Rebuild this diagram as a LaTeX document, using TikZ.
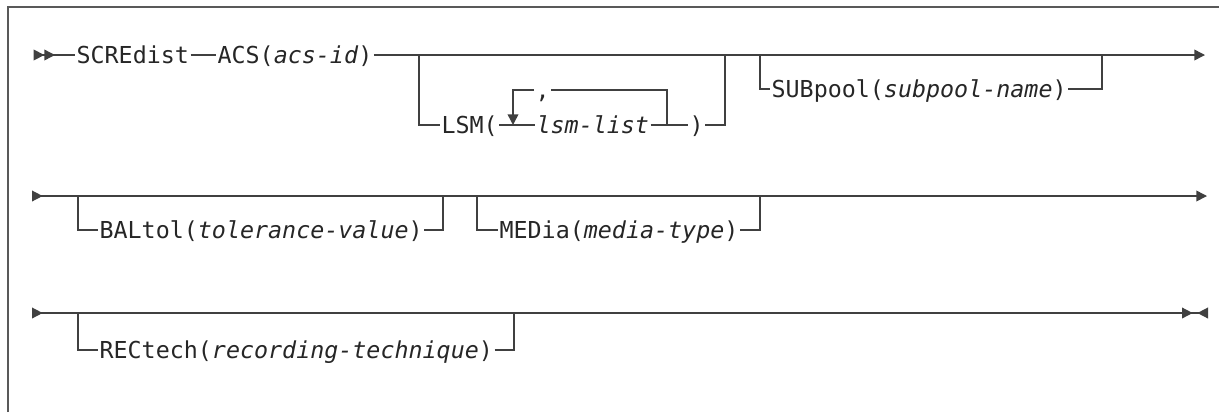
\documentclass[tikz,border=0pt]{standalone}
\usepackage{fontspec}
\setmonofont{DejaVu Sans Mono}
\usetikzlibrary{arrows.meta}

\tikzset{
  kw/.style={anchor=west,inner xsep=1pt,inner ysep=0pt,text height=12.8pt,text depth=0pt,
    font=\ttfamily\fontsize{17.5}{20}\selectfont,text=black!85},
  rail/.style={line width=1.1pt,black!75},
  frame/.style={line width=1.8pt,black!65},
  >={Triangle[length=8pt,width=8pt]}
}

\begin{document}
\begin{tikzpicture}[x=0.75pt,y=-0.75pt]
\useasboundingbox (0,0) rectangle (1219,412);
\draw[frame] (8,412) |- (1219,7);
% first line
\node[kw] (scre) at (75,55) {SCREdist};
\node[kw] (acs) at (216,55) {ACS(\textit{acs-id})};
\node[kw] (lsm) at (440,125) {LSM(};
\node[kw] (lsml) at (535,125) {\textit{lsm-list}};
\node[kw] (comma) at (534,90) {,};
\node[kw] (rpar) at (688,125) {)};
\node[kw] (sub) at (770,89) {SUBpool(\textit{subpool-name})};
\coordinate (s1) at (29,55); \coordinate (e1) at (1205,55);
\coordinate (a1) at (419,55); \coordinate (a2) at (725,55);
\coordinate (b1) at (760,55); \coordinate (b2) at (1102,55);
\coordinate (ll) at (513,125); \coordinate (lr) at (667,125);
\draw[rail,{Triangle[reversed,length=8pt,width=8pt,sep=3.5pt]Triangle[reversed,length=8pt,width=8pt]}-] (s1) -- (scre);
\draw[rail] (scre) -- (acs);
\draw[rail,->] (acs) -- (e1);
\draw[rail] (a1) |- (lsm);
\draw[rail] (lsm) -- (lsml);
\draw[rail] (lsml) -- (rpar);
\draw[rail] (rpar) -| (a2);
\draw[rail] (lr) |- (comma);
\draw[rail,->] (comma) -| (ll);
\draw[rail] (b1) |- (sub);
\draw[rail] (sub) -| (b2);
% second line
\node[kw] (bal) at (98,230) {BALtol(\textit{tolerance-value})};
\node[kw] (med) at (498,230) {MEDia(\textit{media-type})};
\coordinate (s2) at (32,196); \coordinate (e2) at (1207,196);
\coordinate (c1) at (78,196); \coordinate (c2) at (443,196);
\coordinate (c3) at (477,196); \coordinate (c4) at (760,196);
\draw[rail,{Triangle[reversed,length=8pt,width=8pt]}->] (s2) -- (e2);
\draw[rail] (c1) |- (bal);
\draw[rail] (bal) -| (c2);
\draw[rail] (c3) |- (med);
\draw[rail] (med) -| (c4);
% third line
\node[kw] (rec) at (98,350) {RECtech(\textit{recording-technique})};
\coordinate (s3) at (32,313); \coordinate (e3) at (1208,313);
\coordinate (d1) at (78,313); \coordinate (d2) at (514,313);
\draw[rail,{Triangle[reversed,length=8pt,width=8pt]}-{Triangle[length=8pt,width=8pt,sep=3.5pt]Triangle[reversed,length=8pt,width=8pt]}] (s3) -- (e3);
\draw[rail] (d1) |- (rec);
\draw[rail] (rec) -| (d2);
\end{tikzpicture}
\end{document}
